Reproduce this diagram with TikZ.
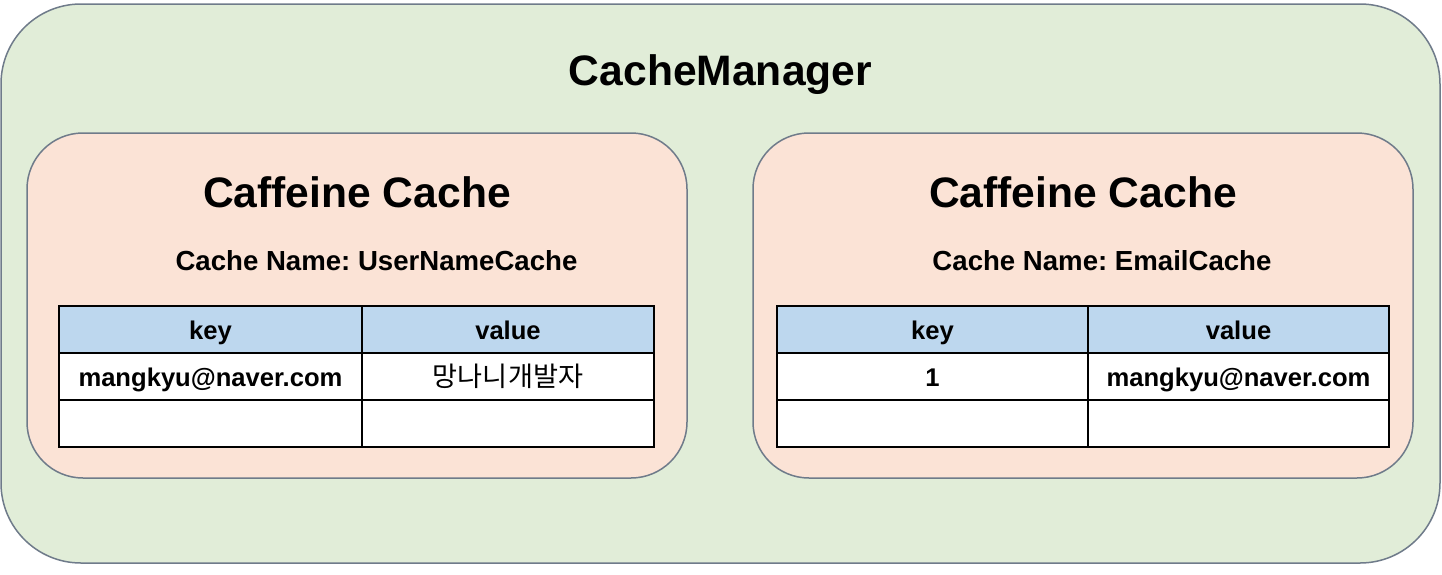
\documentclass[tikz,border=0pt]{standalone}
\usepackage{fontspec}
\setmainfont{Liberation Sans}
\newfontfamily\korfont{Noto Sans CJK KR}
\frenchspacing

\definecolor{mgrfill}{HTML}{E1EDD8}
\definecolor{cachefill}{HTML}{FBE3D6}
\definecolor{headfill}{HTML}{BDD7EE}
\definecolor{boxline}{HTML}{6F7B8A}

\begin{document}
\begin{tikzpicture}[x=0.5pt, y=-0.5pt,
  mgrbox/.style={draw=boxline, fill=mgrfill, line width=0.75pt, rounded corners=40pt},
  cachebox/.style={draw=boxline, fill=cachefill, line width=0.75pt, rounded corners=28pt},
  bigtitle/.style={font=\bfseries\fontsize{21.3}{25}\selectfont, inner sep=0pt},
  subtitle/.style={font=\bfseries\fontsize{13.8}{16}\selectfont, inner sep=0pt},
  cell/.style={draw=black, line width=0.9pt, fill=white, inner sep=0pt,
    minimum height=23.5pt, text height=10.9pt, text depth=1.1pt,
    font=\bfseries\fontsize{12.8}{15}\selectfont},
  head/.style={cell, fill=headfill}]
  \useasboundingbox (0,0) rectangle (1442,574);

  % CacheManager
  \draw[mgrbox] (1,4) rectangle (1440,563);
  \node[bigtitle] (mgr) at (720.5,75) {CacheManager};

  % left cache
  \draw[cachebox] (27,133) rectangle (687,478);
  \node[bigtitle] (lcaf) at (357,192) {Caffeine Cache};
  \node[subtitle] (lname) at (376.5,261) {Cache Name: UserNameCache};

  \node[head, minimum width=151.5pt] (lk0) at (210.5,329.5) {key};
  \node[head, minimum width=146pt]   (lv0) at (508,329.5)   {value};
  \node[cell, minimum width=151.5pt] (lk1) at (210.5,376.5) {mangkyu@naver.com};
  \node[cell, minimum width=146pt, font=\korfont\fontsize{13.6}{15}\selectfont]
                                     (lv1) at (508,376.5)   {망나니개발자};
  \node[cell, minimum width=151.5pt] (lk2) at (210.5,423.5) {};
  \node[cell, minimum width=146pt]   (lv2) at (508,423.5)   {};

  % right cache
  \draw[cachebox] (753,133) rectangle (1413,478);
  \node[bigtitle] (rcaf) at (1083,192) {Caffeine Cache};
  \node[subtitle] (rname) at (1102,261) {Cache Name: EmailCache};

  \node[head, minimum width=155.5pt] (rk0) at (932.5,329.5)  {key};
  \node[head, minimum width=150.5pt] (rv0) at (1238.5,329.5) {value};
  \node[cell, minimum width=155.5pt] (rk1) at (932.5,376.5)  {1};
  \node[cell, minimum width=150.5pt] (rv1) at (1238.5,376.5) {mangkyu@naver.com};
  \node[cell, minimum width=155.5pt] (rk2) at (932.5,423.5)  {};
  \node[cell, minimum width=150.5pt] (rv2) at (1238.5,423.5) {};
\end{tikzpicture}
\end{document}
